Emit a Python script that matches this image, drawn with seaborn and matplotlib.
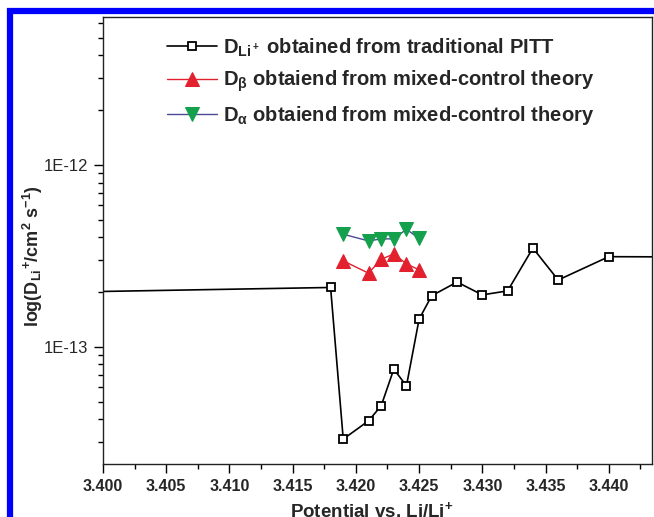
import numpy as np
import pandas as pd
import matplotlib
matplotlib.use("Agg")
import matplotlib.pyplot as plt
from matplotlib.patches import Rectangle
from matplotlib.ticker import FixedLocator, FuncFormatter, LogLocator, NullFormatter
import seaborn as sns

# ─── Data ─────────────────────────────────────────────────────────────────────
# D_Li+ from traditional PITT (first/last points lie outside the visible range)
pitt_potential = [3.390, 3.418, 3.419, 3.421, 3.422, 3.423, 3.424, 3.425,
                  3.426, 3.428, 3.430, 3.432, 3.434, 3.436, 3.440, 3.446]
pitt_d = [1.96e-13, 2.12e-13, 3.11e-14, 3.92e-14, 4.74e-14, 7.54e-14, 6.10e-14,
          1.42e-13, 1.91e-13, 2.27e-13, 1.93e-13, 2.03e-13, 3.49e-13, 2.33e-13,
          3.13e-13, 3.12e-13]

# D_beta and D_alpha from mixed-control theory
mixed_potential = [3.419, 3.421, 3.422, 3.423, 3.424, 3.425]
beta_d = [2.97e-13, 2.54e-13, 3.03e-13, 3.24e-13, 2.86e-13, 2.65e-13]
alpha_d = [4.16e-13, 3.82e-13, 3.92e-13, 3.92e-13, 4.43e-13, 3.94e-13]

x_ticks = [3.400, 3.405, 3.410, 3.415, 3.420, 3.425, 3.430, 3.435, 3.440]

labels = [
    r"D$_{\mathregular{Li^+}}$ obtained from traditional PITT",
    r"D$_{\beta}$ obtaiend from mixed-control theory",
    r"D$_{\alpha}$ obtaiend from mixed-control theory",
]

# ─── Style ────────────────────────────────────────────────────────────────────
sns.set_theme(style="ticks")
plt.rcParams["font.family"] = ["Liberation Sans", "DejaVu Sans"]
plt.rcParams["mathtext.default"] = "regular"
plt.rcParams["axes.linewidth"] = 1.0

RED = "#e3202e"
GREEN = "#14a04c"

fig = plt.figure(figsize=(6.54, 5.17), dpi=100, facecolor="white")
ax = fig.add_axes([103 / 654, 1 - 464 / 517, 549 / 654, 447 / 517])

pitt = pd.DataFrame({"x": pitt_potential, "y": pitt_d})
mixed = pd.DataFrame({"x": mixed_potential, "beta": beta_d, "alpha": alpha_d})

sns.lineplot(data=pitt, x="x", y="y", ax=ax, color="black", lw=1.2,
             marker="s", markersize=5.5, markerfacecolor="white",
             markeredgecolor="black", markeredgewidth=1.3, label=labels[0])
sns.lineplot(data=mixed, x="x", y="beta", ax=ax, color=RED, lw=1.0,
             marker="^", markersize=10, markerfacecolor=RED,
             markeredgecolor=RED, label=labels[1])
sns.lineplot(data=mixed, x="x", y="alpha", ax=ax, color="#4a4a96", lw=1.0,
             marker="v", markersize=10, markerfacecolor=GREEN,
             markeredgecolor=GREEN, label=labels[2])

# ─── Axes ─────────────────────────────────────────────────────────────────────
ax.set_yscale("log")
ax.set_xlim(3.400, 3.44342)
ax.set_ylim(2.27e-14, 6.5e-12)

ax.xaxis.set_major_locator(FixedLocator(x_ticks))
ax.xaxis.set_minor_locator(FixedLocator(np.array(x_ticks) + 0.0025))
ax.xaxis.set_major_formatter(FuncFormatter(lambda v, p: f"{v:.3f}"))
ax.yaxis.set_major_locator(LogLocator(base=10, numticks=10))
ax.yaxis.set_minor_locator(LogLocator(base=10, subs=np.arange(2, 10), numticks=10))
ax.yaxis.set_major_formatter(FuncFormatter(lambda v, p: f"1E{int(round(np.log10(v)))}"))
ax.yaxis.set_minor_formatter(NullFormatter())

ax.tick_params(axis="both", which="major", direction="out", length=6.5, width=1.0,
               color="black", top=False, right=False)
ax.tick_params(axis="both", which="minor", direction="out", length=3.5, width=1.0,
               color="black", top=False, right=False)
ax.tick_params(axis="x", which="major", labelsize=11.5, pad=4)
ax.tick_params(axis="y", which="major", labelsize=12, pad=4)
for lab in ax.get_xticklabels():
    lab.set_fontweight("bold")

for sp in ax.spines.values():
    sp.set_color("#222222")
    sp.set_visible(True)

ax.set_xlabel(r"Potential vs. Li/Li$^{+}$", fontsize=13.5, fontweight="bold")
ax.xaxis.set_label_coords(0.49, -0.082)
ax.set_ylabel(r"log(D$_{Li}$$^{+}$/cm$^{2}$ s$^{-1}$)", fontsize=13,
              fontweight="bold")
ax.yaxis.set_label_coords(-0.105, 0.465)

leg = ax.legend(loc="upper left", bbox_to_anchor=(0.1166, 0.957), frameon=False,
                handlelength=2.5, handletextpad=0.3, labelspacing=0.5,
                borderpad=0, borderaxespad=0,
                prop={"size": 14.5, "weight": "bold"})

# journal frame around the figure
fig.patches.append(Rectangle((10 / 654, -0.2), 1.3, (517 - 11) / 517 + 0.2,
                             transform=fig.transFigure, fill=False,
                             edgecolor="#0000ff", lw=4.5, zorder=10))

fig.savefig("out.png", dpi=100, facecolor="white")
